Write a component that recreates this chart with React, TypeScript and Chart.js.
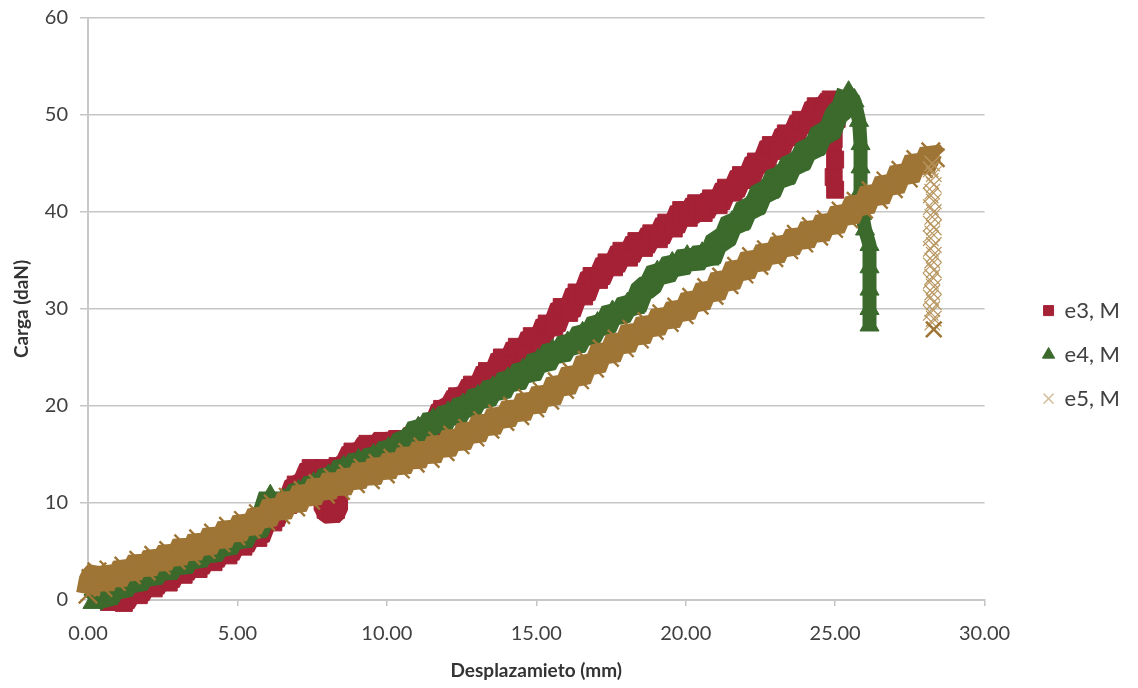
import React, { useEffect, useRef } from "react";
import { Chart, registerables } from "chart.js";

Chart.register(...registerables);

const seriesLabels = ["e3, M", "e4, M", "e5, M"];
const xTicks = [0, 5, 10, 15, 20, 25, 30];
const yTicks = [0, 10, 20, 30, 40, 50, 60];

const e3: [number, number][] = [
  [0.7,-0.2],[0.95,0.5],[1.2,-0.3],[1.45,1.0],[1.7,0.5],[1.95,1.9],[2.2,1.2],[2.45,2.6],[2.7,1.8],[2.95,3.4],
  [3.2,2.6],[3.45,4.0],[3.7,3.2],[3.95,4.8],[4.2,3.9],[4.45,5.5],[4.7,4.6],[4.95,6.2],[5.2,5.5],[5.45,7.0],
  [5.7,6.4],[5.95,8.4],[6.2,8.0],[6.45,10.1],[6.7,9.8],[6.95,11.9],[7.2,11.8],[7.45,13.6],[7.7,12.9],[7.9,13.6],
  [7.95,11.5],[7.95,9.3],[8.15,8.9],[8.3,9.3],[8.3,11.4],[8.35,13.8],
  [8.6,13.7],[8.85,15.3],[9.1,14.9],[9.35,16.1],[9.6,15.5],[9.85,16.4],[10.1,15.8],[10.35,16.6],[10.6,15.9],[10.85,16.9],
  [11.1,16.4],[11.35,17.9],[11.6,17.8],[11.85,19.7],[12.1,19.6],[12.35,21.0],[12.6,20.7],[12.85,22.2],[13.1,21.8],[13.35,23.6],
  [13.6,23.0],[13.85,25.0],[14.1,24.3],[14.35,26.1],[14.6,25.3],[14.85,27.2],[15.1,26.5],[15.35,28.5],[15.6,28.1],[15.85,30.2],
  [16.1,29.6],[16.35,31.7],[16.6,31.3],[16.85,33.4],[17.1,33.0],[17.35,34.8],[17.6,34.3],[17.85,36.0],[18.1,35.3],[18.35,37.0],
  [18.6,36.3],[18.85,37.8],[19.1,37.2],[19.35,38.9],[19.6,38.3],[19.85,40.2],[20.1,39.4],[20.35,40.9],[20.6,39.9],[20.85,41.4],
  [21.1,40.7],[21.35,42.5],[21.6,42.0],[21.85,43.8],[22.1,43.3],[22.35,45.2],[22.6,44.9],[22.85,46.9],[23.1,46.3],[23.35,48.1],
  [23.6,47.7],[23.85,49.5],[24.1,49.0],[24.35,50.9],[24.6,50.5],[24.85,51.6],[25.1,51.5],
  [25.05,49.6],[24.95,47.5],[25.0,45.4],[24.95,43.6],[25.0,42.3]
];

const e4: [number, number][] = [
  [0.15,-0.3],[0.4,0.6],[0.65,0.1],[0.9,1.5],[1.15,1.0],[1.4,2.2],[1.65,1.6],[1.9,2.9],[2.15,2.2],[2.4,3.6],
  [2.65,2.7],[2.9,4.2],[3.15,3.3],[3.4,4.7],[3.65,4.0],[3.9,5.3],[4.15,4.6],[4.4,5.9],[4.65,5.3],[4.9,6.7],
  [5.15,6.0],[5.4,7.6],[5.65,7.0],[5.9,8.9],[6.1,10.8],[6.3,9.0],[6.55,10.4],[6.8,10.0],[7.05,11.3],[7.3,10.8],
  [7.55,12.1],[7.8,11.5],[8.05,12.9],[8.3,12.4],[8.55,13.8],[8.8,13.1],[9.05,14.5],[9.3,13.7],[9.55,15.0],[9.8,14.4],
  [10.05,15.7],[10.3,15.1],[10.55,16.6],[10.8,16.3],[11.05,17.8],[11.3,17.3],[11.55,18.7],[11.8,17.9],[12.05,19.4],[12.3,18.8],
  [12.55,20.2],[12.8,19.7],[13.05,21.1],[13.3,20.6],[13.55,22.0],[13.8,21.4],[14.05,22.9],[14.3,22.3],[14.55,23.8],[14.8,23.2],
  [15.05,24.8],[15.3,24.3],[15.55,25.8],[15.8,25.2],[16.05,26.6],[16.3,26.1],[16.55,27.6],[16.8,27.1],[17.05,28.6],[17.3,28.1],
  [17.55,29.8],[17.8,29.2],[18.05,30.6],[18.3,30.1],[18.55,32.1],[18.8,32.3],[19.05,33.9],[19.3,33.4],[19.55,34.8],[19.8,34.2],
  [20.05,35.5],[20.3,34.7],[20.55,35.8],[20.8,35.1],[21.05,37.1],[21.3,37.1],[21.55,39.0],[21.8,38.7],[22.05,40.5],[22.3,40.3],
  [22.55,42.2],[22.8,42.0],[23.05,43.8],[23.3,43.4],[23.55,45.1],[23.8,44.9],[24.05,46.6],[24.3,46.4],[24.55,48.2],[24.8,48.1],
  [25.05,50.1],[25.25,50.6],[25.45,52.4],[25.65,51.4],
  [25.8,49.4],[25.85,47.0],[25.85,44.6],[25.85,42.2],[25.9,39.8],[26.0,38.2],[26.15,36.6],[26.15,34.3],[26.15,32.0],[26.15,30.0],
  [26.15,28.3]
];

const e5Rise: [number, number][] = [
  [0.0,0.6],[0.1,2.2],[0.3,2.9],[0.5,1.3],[0.7,3.1],[0.95,1.9],[1.2,3.5],[1.45,2.6],[1.7,4.1],[1.95,3.0],
  [2.2,4.6],[2.45,3.6],[2.7,5.1],[2.95,4.1],[3.2,5.8],[3.45,4.6],[3.7,6.3],[3.95,5.2],[4.2,6.9],[4.45,5.9],
  [4.7,7.6],[4.95,6.6],[5.2,8.2],[5.45,7.3],[5.7,8.9],[5.95,8.1],[6.2,9.9],[6.45,8.8],[6.7,10.6],[6.95,9.6],
  [7.2,11.3],[7.45,10.3],[7.7,12.0],[7.95,10.9],[8.2,12.6],[8.45,11.3],[8.7,13.0],[8.95,12.0],[9.2,13.6],[9.45,12.4],
  [9.7,14.1],[9.95,13.0],[10.2,14.6],[10.45,13.5],[10.7,15.2],[10.95,14.1],[11.2,15.8],[11.45,14.6],[11.7,16.4],[11.95,15.3],
  [12.2,17.0],[12.45,16.0],[12.7,17.7],[12.95,16.8],[13.2,18.5],[13.45,17.6],[13.7,19.2],[13.95,18.4],[14.2,20.0],[14.45,19.0],
  [14.7,20.8],[14.95,19.8],[15.2,21.5],[15.45,20.6],[15.7,22.5],[15.95,21.7],[16.2,23.5],[16.45,22.7],[16.7,24.7],[16.95,23.9],
  [17.2,25.9],[17.45,25.0],[17.7,26.9],[17.95,26.0],[18.2,27.9],[18.45,26.9],[18.7,28.7],[18.95,27.8],[19.2,29.5],[19.45,28.6],
  [19.7,30.2],[19.95,29.4],[20.2,31.2],[20.45,30.4],[20.7,32.2],[20.95,31.4],[21.2,33.3],[21.45,32.5],[21.7,34.4],[21.95,33.6],
  [22.2,35.4],[22.45,34.5],[22.7,36.1],[22.95,35.3],[23.2,36.9],[23.45,36.1],[23.7,37.7],[23.95,36.8],[24.2,38.5],[24.45,37.5],
  [24.7,39.2],[24.95,38.3],[25.2,40.1],[25.45,39.3],[25.7,41.1],[25.95,40.3],[26.2,42.2],[26.45,41.3],[26.7,43.2],[26.95,42.4],
  [27.2,44.3],[27.45,43.5],[27.7,45.4],[27.95,44.5],[28.2,46.2],[28.35,45.6]
];

const e5Drop: [number, number][] = [
  [28.25,45.0],[28.2,44.4],[28.3,43.9],[28.2,43.2],[28.3,42.8],[28.25,42.1],[28.2,41.7],[28.3,41.1],[28.2,40.5],[28.3,40.0],
  [28.25,39.5],[28.2,38.8],[28.3,38.4],[28.25,37.8],[28.2,37.3],[28.3,36.6],[28.2,36.2],[28.3,35.6],[28.25,35.0],[28.2,34.5],
  [28.3,34.0],[28.25,33.3],[28.2,32.9],[28.3,32.3],[28.25,31.7],[28.2,31.2],[28.3,30.7],[28.25,30.0],[28.2,29.6],[28.3,29.0],
  [28.25,28.6],[28.3,27.9]
];

const RED = "#a52135";
const GREEN = "#3b6a2c";
const TAN = "#9f7536";
const TAN_COL = "#b8965f";
const TAN_LIGHT = "#d6c3a2";
const FONT = "Lato, 'Open Sans', sans-serif";

const toXY = (arr: [number, number][]) => arr.map(([x, y]) => ({ x, y }));
const peakIndex = (arr: [number, number][]) => {
  let k = 0;
  arr.forEach(([, y], i) => {
    if (y > arr[k][1]) k = i;
  });
  return k;
};

export default function App() {
  const ref = useRef<HTMLCanvasElement | null>(null);

  useEffect(() => {
    if (!ref.current) return;
    const tan = [...e5Rise, ...e5Drop];
    const riseN = e5Rise.length;
    const lastIdx = tan.length - 1;
    const p3 = peakIndex(e3);
    const p4 = peakIndex(e4);
    const W = 24;
    const lineCommon = {
      showLine: true,
      borderWidth: W,
      borderJoinStyle: "bevel",
      borderCapStyle: "butt",
      clip: false,
    };
    const chart = new Chart(ref.current, {
      type: "scatter",
      data: {
        datasets: [
          {
            ...lineCommon,
            label: seriesLabels[0],
            data: toXY(e3),
            borderColor: RED,
            backgroundColor: RED,
            segment: { borderWidth: (c: any) => (c.p0DataIndex >= p3 ? 15 : W) },
            pointStyle: "rect",
            pointRadius: 12,
            pointBorderWidth: 1,
            pointBackgroundColor: RED,
            pointBorderColor: RED,
            order: 3,
          },
          {
            ...lineCommon,
            label: seriesLabels[1],
            data: toXY(e4),
            borderColor: GREEN,
            backgroundColor: GREEN,
            segment: { borderWidth: (c: any) => (c.p0DataIndex >= p4 ? 14 : W) },
            pointStyle: "triangle",
            pointRadius: 11,
            pointBorderWidth: 1,
            pointBackgroundColor: GREEN,
            pointBorderColor: GREEN,
            order: 2,
          },
          {
            ...lineCommon,
            label: seriesLabels[2],
            data: toXY(tan),
            borderColor: TAN,
            backgroundColor: TAN,
            segment: {
              borderColor: (c: any) => (c.p0DataIndex >= riseN - 1 ? "rgba(0,0,0,0)" : TAN),
            },
            pointStyle: "crossRot",
            pointRadius: (c: any) => (c.dataIndex >= riseN ? 11 : 13),
            pointBorderWidth: (c: any) =>
              c.dataIndex === lastIdx ? 2.6 : c.dataIndex >= riseN ? 1.2 : 2.4,
            pointBorderColor: (c: any) =>
              c.dataIndex >= riseN && c.dataIndex !== lastIdx ? TAN_COL : TAN,
            pointBackgroundColor: TAN,
            order: 1,
          },
        ],
      },
      options: {
        responsive: false,
        animation: false,
        events: [],
        layout: { padding: { left: 6, right: 8, top: 18, bottom: 4 } },
        plugins: {
          tooltip: { enabled: false },
          legend: {
            position: "right",
            align: "center",
            title: { display: true, text: " ", font: { size: 6 }, padding: 0 },
            labels: {
              usePointStyle: true,
              boxWidth: 10,
              boxHeight: 10,
              padding: 22,
              color: "#404040",
              font: { family: FONT, size: 22 },
              sort: (a: any, b: any) => a.datasetIndex - b.datasetIndex,
              generateLabels: (ch: any) => {
                const items = (Chart.defaults.plugins.legend.labels as any).generateLabels(ch);
                const fills = [RED, GREEN, TAN_LIGHT];
                return items.map((it: any) => ({
                  ...it,
                  fillStyle: fills[it.datasetIndex],
                  strokeStyle: fills[it.datasetIndex],
                  lineWidth: it.datasetIndex === 2 ? 1.5 : 1,
                }));
              },
            },
          },
        },
        scales: {
          x: {
            type: "linear",
            min: 0,
            max: 30,
            afterFit: (s: any) => {
              s.height = 84;
            },
            afterBuildTicks: (s: any) => {
              s.ticks = xTicks.map((v) => ({ value: v }));
            },
            ticks: {
              color: "#404040",
              font: { family: FONT, size: 20 },
              padding: 16,
              callback: (v: any) => Number(v).toFixed(2),
            },
            grid: {
              drawOnChartArea: false,
              drawTicks: true,
              tickLength: 6,
              color: "#c4c4c4",
              lineWidth: 1.5,
            },
            border: { color: "#c8c8c8", width: 2 },
            title: {
              display: true,
              text: "Desplazamieto (mm)",
              color: "#333333",
              font: { family: FONT, size: 19, weight: "bold" },
              padding: { top: 0, bottom: 2 },
            },
          },
          y: {
            type: "linear",
            min: 0,
            max: 60,
            afterFit: (s: any) => {
              s.width = 82;
              s.paddingTop = 0;
              s.paddingBottom = 0;
            },
            afterBuildTicks: (s: any) => {
              s.ticks = yTicks.map((v) => ({ value: v }));
            },
            ticks: {
              color: "#404040",
              font: { family: FONT, size: 20 },
              padding: 12,
            },
            grid: {
              drawTicks: true,
              tickLength: 8,
              color: "#c6c6c6",
              lineWidth: 1.5,
            },
            border: { color: "#c8c8c8", width: 2 },
            title: {
              display: true,
              text: "Carga (daN)",
              color: "#333333",
              font: { family: FONT, size: 19, weight: "bold" },
              padding: { top: 4, bottom: 0 },
            },
          },
          yRightSpace: {
            type: "linear",
            position: "right",
            min: 0,
            max: 60,
            afterFit: (s: any) => {
              s.width = 37;
              s.paddingTop = 0;
              s.paddingBottom = 0;
            },
            ticks: { display: false },
            grid: { display: false },
            border: { display: false },
          },
        },
      },
    } as any);
    return () => chart.destroy();
  }, []);

  return (
    <div style={{ position: "absolute", left: 0, top: 0, width: 1138, height: 688, background: "#fff" }}>
      <canvas ref={ref} width={1138} height={688} style={{ width: 1138, height: 688 }} />
    </div>
  );
}
